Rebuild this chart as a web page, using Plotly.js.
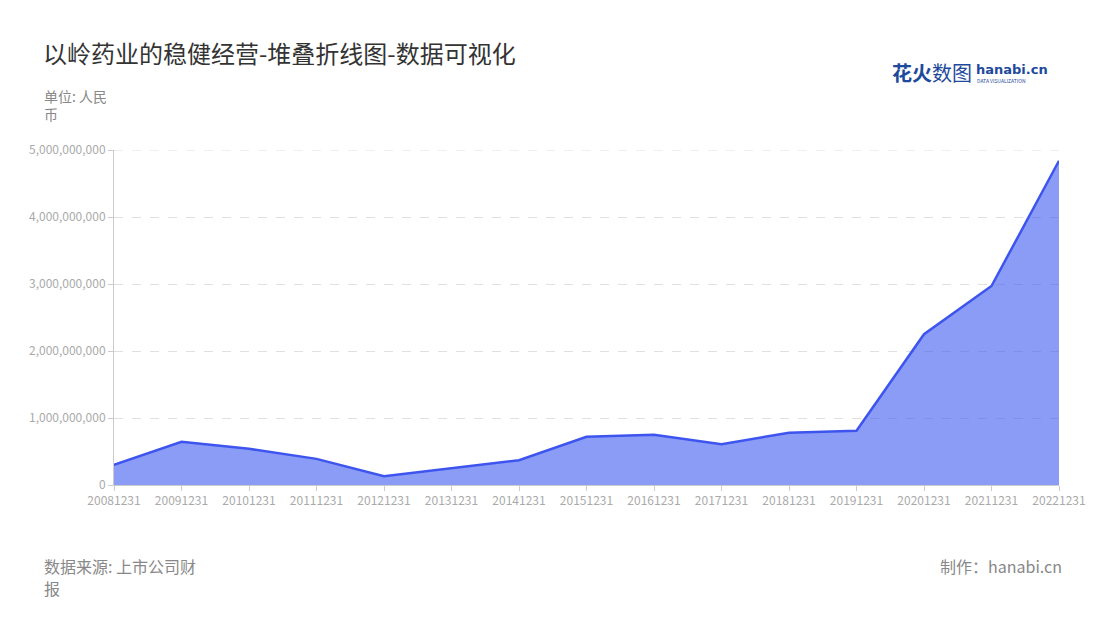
<!DOCTYPE html>
<html><head><meta charset="utf-8">
<script src="https://cdn.plot.ly/plotly-3.0.1.min.js"></script>
<style>html,body{margin:0;padding:0;background:#fff}#chart{width:1100px;height:620px}</style>
</head><body><div id="chart"></div>
<script>
const categories = ['20081231','20091231','20101231','20111231','20121231','20131231','20141231','20151231','20161231','20171231','20181231','20191231','20201231','20211231','20221231'];
const values = [0.30e9,0.646e9,0.54e9,0.39e9,0.13e9,0.25e9,0.37e9,0.72e9,0.75e9,0.61e9,0.78e9,0.81e9,2.25e9,2.97e9,4.84e9];
const yTicks = [0,1e9,2e9,3e9,4e9,5e9];

const font = '"Noto Sans CJK SC","Noto Sans",sans-serif';
const trace = {
  x: categories, y: values, type: 'scatter', mode: 'lines',
  line: {color: '#3d55ee', width: 2.5},
  fill: 'tozeroy', fillcolor: 'rgba(61,90,241,0.6)',
  hoverinfo: 'x+y'
};
const L = 114, T = 150, W = 945, H = 335;
const px = x => (x - L) / W;
const py = y => (T + H - y) / H;
const topTick = yTicks[yTicks.length - 1];
const layout = {
  width: 1100, height: 620,
  margin: {l: 114, r: 41, t: 150, b: 135},
  paper_bgcolor: '#fff', plot_bgcolor: '#fff',
  font: {family: font, color: '#999'},
  showlegend: false,
  title: {text: '以岭药业的稳健经营-堆叠折线图-数据可视化', x: 43/1100, xanchor: 'left', y: 1-55/620, yanchor: 'middle',
          font: {size: 24, color: '#333', family: font}},
  xaxis: {type: 'category', range: [0, categories.length-1], showgrid: false, zeroline: false,
          showline: true, linecolor: '#ccc', linewidth: 1, ticks: 'outside', ticklen: 5, tickcolor: '#ccc',
          tickfont: {size: 12, color: '#aaa'}, fixedrange: true},
  yaxis: {range: [0, topTick], tickvals: yTicks, tickformat: ',d', showgrid: true, gridcolor: '#e0e0e0', griddash: 'dash',
          zeroline: false, showline: true, linecolor: '#ccc', linewidth: 1, ticks: 'outside', ticklen: 5, tickcolor: '#ccc',
          tickfont: {size: 12, color: '#aaa'}, fixedrange: true},
  shapes: [
    {type: 'line', xref: 'paper', yref: 'y', x0: 0, x1: 1, y0: topTick, y1: topTick, layer: 'below',
     line: {color: '#e0e0e0', width: 1, dash: 'dash'}}
  ],
  annotations: [
    {text: '单位: 人民', xref: 'paper', yref: 'paper', x: px(42), y: py(96), xanchor: 'left', yanchor: 'middle', align: 'left',
     showarrow: false, font: {size: 14, color: '#888', family: font}},
    {text: '币', xref: 'paper', yref: 'paper', x: px(42), y: py(114), xanchor: 'left', yanchor: 'middle', align: 'left',
     showarrow: false, font: {size: 14, color: '#888', family: font}},
    {text: '数据来源: 上市公司财', xref: 'paper', yref: 'paper', x: px(42), y: py(566), xanchor: 'left', yanchor: 'middle', align: 'left',
     showarrow: false, font: {size: 16, color: '#888', family: font}},
    {text: '报', xref: 'paper', yref: 'paper', x: px(42), y: py(588), xanchor: 'left', yanchor: 'middle', align: 'left',
     showarrow: false, font: {size: 16, color: '#888', family: font}},
    {text: '制作：hanabi.cn', xref: 'paper', yref: 'paper', x: px(1064), y: py(566), xanchor: 'right', yanchor: 'middle', align: 'right',
     showarrow: false, font: {size: 16, color: '#888', family: font}},
    {text: '<b>花火</b>数图', xref: 'paper', yref: 'paper', x: px(890), y: py(72), xanchor: 'left', yanchor: 'middle',
     showarrow: false, font: {size: 20, color: '#1e4a9c', family: font}},
    {text: '<b>hanabi.cn</b>', xref: 'paper', yref: 'paper', x: px(974), y: py(70), xanchor: 'left', yanchor: 'middle',
     showarrow: false, font: {size: 13, color: '#1e4a9c', family: '"DejaVu Sans",sans-serif'}},
    {text: 'DATA VISUALIZATION', xref: 'paper', yref: 'paper', x: px(975), y: py(80), xanchor: 'left', yanchor: 'middle',
     showarrow: false, font: {size: 5, color: '#1e4a9c', family: font}}
  ]
};
Plotly.newPlot('chart', [trace], layout, {displayModeBar: false, staticPlot: true});
</script></body></html>
